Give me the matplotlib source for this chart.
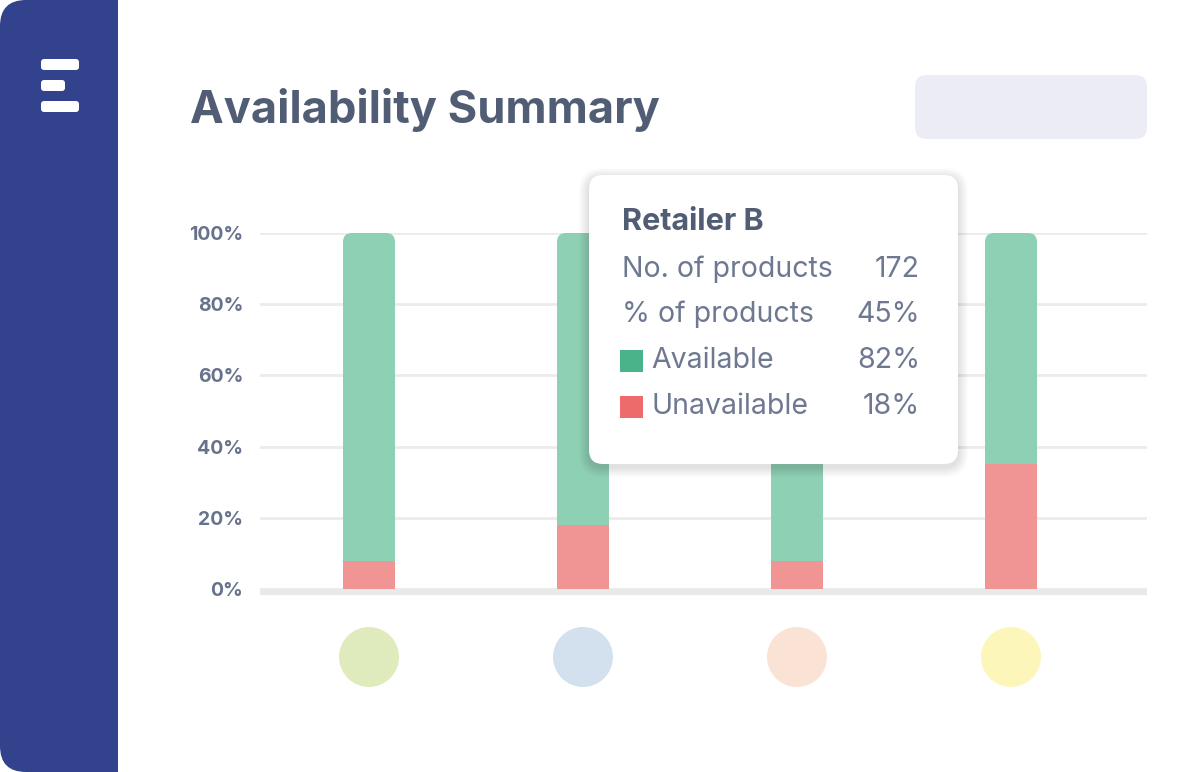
import numpy as np
import matplotlib
matplotlib.use("Agg")
import matplotlib.pyplot as plt
from matplotlib.patches import FancyBboxPatch, Rectangle

plt.rcParams['font.family'] = ['Inter', 'DejaVu Sans']

# data
retailers = ["Retailer A", "Retailer B", "Retailer C", "Retailer D"]
unavailable = [8, 18, 8, 35]
available = [100 - u for u in unavailable]
retailer_colors = ["#DFEBBC", "#D3E1EF", "#FAE2D5", "#FDF6BA"]
y_ticks = [0, 20, 40, 60, 80, 100]
y_labels = ["0%", "20%", "40%", "60%", "80%", "100%"]

# tooltip data (Retailer B)
tip_name = "Retailer B"
tip_rows = ["No. of products", "% of products", "Available", "Unavailable"]
tip_values = ["172", "45%", "82%", "18%"]

green = "#8ED0B4"
red = "#F09494"
text_dark = "#515D74"
text_grey = "#6E7891"

W, H = 1200, 772
fig = plt.figure(figsize=(W / 100, H / 100), dpi=100)
fig.patch.set_facecolor("white")

# chart axes, pixel box: x 260..1147, y 233 (100%) .. 589 (0%)
ax = fig.add_axes([260 / W, (H - 589) / H, 887 / W, 356 / H])
x = np.arange(len(retailers))
px_per_x = 214.0
ax.set_xlim(-109 / px_per_x, 778 / px_per_x)
ax.set_ylim(0, 100)
for s in ax.spines.values():
    s.set_visible(False)
ax.set_facecolor("none")
ax.set_xticks([])
ax.set_yticks(y_ticks)
ax.set_yticklabels(y_labels, fontsize=14, fontweight="bold", color="#67738C")
ax.tick_params(axis="y", length=0, pad=12)
ax.yaxis.grid(True, color="#EBEBEB", lw=2.0, zorder=0)
ax.set_axisbelow(True)
ax.axhline(-0.9, color="#E9E9E9", lw=4.5, zorder=1, clip_on=False, solid_capstyle="butt")

bar_w = 52 / px_per_x
# green bars with rounded tops
green_bars = ax.bar(x, available, bottom=unavailable, width=bar_w, color=green)
aspect = (100 / 356) / (1 / px_per_x)
for rect in green_bars:
    rect.set_visible(False)
    ax.add_patch(FancyBboxPatch((rect.get_x(), 0), rect.get_width(), rect.get_y() + rect.get_height(),
                                boxstyle="round,pad=0,rounding_size=%f" % (9 / px_per_x),
                                mutation_aspect=aspect, fc=green, ec="none", zorder=2))
ax.bar(x, unavailable, width=bar_w, color=red, zorder=3)

# retailer colour dots under the bars
ax.scatter(x, [-19.1] * len(x), s=60 * 0.72 * 60 * 0.72, c=retailer_colors, clip_on=False, zorder=3,
           linewidths=0)

# decoration layer in pixel coordinates
deco = fig.add_axes([0, 0, 1, 1])
deco.set_xlim(0, W)
deco.set_ylim(H, 0)
deco.axis("off")
deco.set_zorder(5)
deco.patch.set_alpha(0)

# sidebar
deco.add_patch(FancyBboxPatch((0, 0), 118, H, boxstyle="round,pad=0,rounding_size=26",
                              fc="#33428C", ec="none"))
deco.add_patch(Rectangle((60, 0), 58, H, fc="#33428C", ec="none"))
for (x0, x1, y0, y1) in [(41, 79, 59, 70), (41, 65, 80, 91), (41, 79, 101, 112)]:
    deco.add_patch(FancyBboxPatch((x0, y0), x1 - x0, y1 - y0, boxstyle="round,pad=0,rounding_size=3",
                                  fc="white", ec="none"))

# title and top-right placeholder
deco.text(190, 123, "Availability Summary", fontsize=32.5, fontweight="bold", color=text_dark, va="baseline")
deco.add_patch(FancyBboxPatch((915, 75), 232, 64, boxstyle="round,pad=0,rounding_size=12",
                              fc="#ECECF6", ec="none"))

# tooltip with soft shadow
tx, ty, tw, th = 589, 175, 369, 289
for i in range(10, 0, -1):
    deco.add_patch(FancyBboxPatch((tx - i, ty - i + 3), tw + 2 * i, th + 2 * i,
                                  boxstyle="round,pad=0,rounding_size=%d" % (14 + i),
                                  fc="black", ec="none", alpha=0.012))
deco.add_patch(FancyBboxPatch((tx, ty), tw, th, boxstyle="round,pad=0,rounding_size=14",
                              fc="white", ec="none"))
deco.text(622, 230, tip_name, fontsize=22, fontweight="bold", color=text_dark, va="baseline")
baselines = [277, 322, 368, 414]
for i, (lab, val) in enumerate(zip(tip_rows, tip_values)):
    lx = 622
    if lab in ("Available", "Unavailable"):
        sq = "#4BB38A" if lab == "Available" else "#EE6B6B"
        deco.add_patch(Rectangle((620, baselines[i] - 18), 23, 22, fc=sq, ec="none"))
        lx = 651
    deco.text(lx, baselines[i], lab, fontsize=20.5, color=text_grey, va="baseline")
    deco.text(920, baselines[i], val, fontsize=20.5, color=text_grey, va="baseline", ha="right")

fig.savefig("out.png", dpi=100, facecolor="white")
